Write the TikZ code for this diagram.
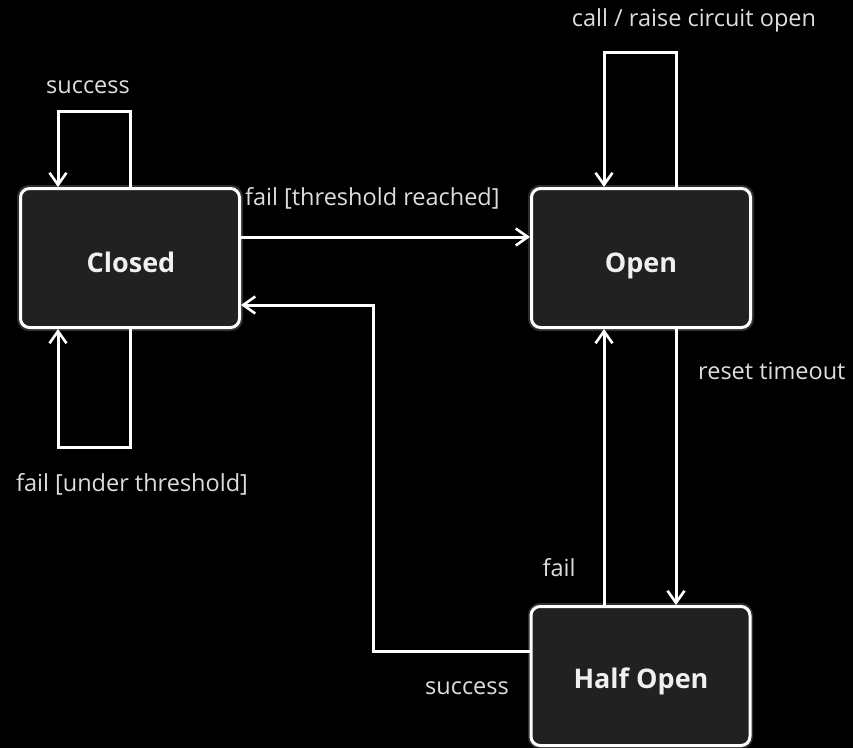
\documentclass[tikz,border=0pt]{standalone}
\usepackage{fontspec}
\setmainfont{Open Sans}
\usetikzlibrary{arrows.meta}

\definecolor{boxfill}{HTML}{212121}
\definecolor{labelgray}{HTML}{DDDDDD}

\tikzset{
  state/.style={draw=white, line width=3pt, fill=boxfill, rounded corners=9pt,
    minimum width=219pt, minimum height=139pt, inner sep=0pt},
  statetext/.style={text=white!94!black, inner sep=0pt, anchor=base,
    font=\fontsize{27}{31}\selectfont\bfseries},
  halo/.style={draw=white, line width=6pt, rounded corners=9pt, opacity=0.18},
  edge/.style={draw=white, line width=3pt,
    -{Straight Barb[length=12pt,width=17pt,line width=2.6pt]}},
  lbl/.style={text=labelgray, font=\fontsize{23.5}{27}\selectfont, inner sep=0pt},
}

\begin{document}
\begin{tikzpicture}[x=1pt, y=-1pt]
  \useasboundingbox[fill=black] (0,0) rectangle (853,748);

  % soft glow round the states
  \draw[halo] (20,188) rectangle (240,328);
  \draw[halo] (531,188) rectangle (751,328);
  \draw[halo] (531,606) rectangle (750,746);

  % states
  \node[state] (closed)   at (130,258)   {};
  \node[state] (open)     at (641,258)   {};
  \node[state] (halfopen) at (640.5,676) {};
  \node[statetext] (tclosed) at (131,272) {Closed};
  \node[statetext] (topen)   at (641,272) {Open};
  \node[statetext] (thalf)   at (641,688) {Half Open};

  % helper points for the orthogonal routes
  \coordinate (cTopR) at (130,111);
  \coordinate (cTopL) at (58,111);
  \coordinate (cBotR) at (130,447);
  \coordinate (cBotL) at (58,447);
  \coordinate (oTopR) at (676,52);
  \coordinate (oTopL) at (604,52);
  \coordinate (cRow)  at (300,237);
  \coordinate (hBend) at (373,651);
  \coordinate (cBend) at (373,305);

  % Closed: self loops
  \draw[edge] (closed.north -| cTopR) -- (cTopR) -- (cTopL) -- (closed.north -| cTopL);
  \draw[edge] (closed.south -| cBotR) -- (cBotR) -- (cBotL) -- (closed.south -| cBotL);

  % Closed -> Open
  \draw[edge] (closed.east |- cRow) -- (open.west |- cRow);

  % Open: self loop
  \draw[edge] (open.north -| oTopR) -- (oTopR) -- (oTopL) -- (open.north -| oTopL);

  % Open <-> Half Open
  \draw[edge] (open.south -| oTopR) -- (halfopen.north -| oTopR);
  \draw[edge] (halfopen.north -| oTopL) -- (open.south -| oTopL);

  % Half Open -> Closed
  \draw[edge] (halfopen.west |- hBend) -- (hBend) -- (cBend) -- (closed.east |- cBend);

  % transition labels
  \node[lbl] (lsucc1) at (88,87)   {success};
  \node[lbl] (lfailu) at (132,484) {fail [under threshold]};
  \node[lbl, anchor=west] (lfailt) at (245,198) {fail [threshold reached]};
  \node[lbl] (lcall)  at (694,20)  {call / raise circuit open};
  \node[lbl, anchor=west] (lreset) at (698,371) {reset timeout};
  \node[lbl] (lfail)  at (559,568) {fail};
  \node[lbl] (lsucc2) at (467,688) {success};
\end{tikzpicture}
\end{document}
